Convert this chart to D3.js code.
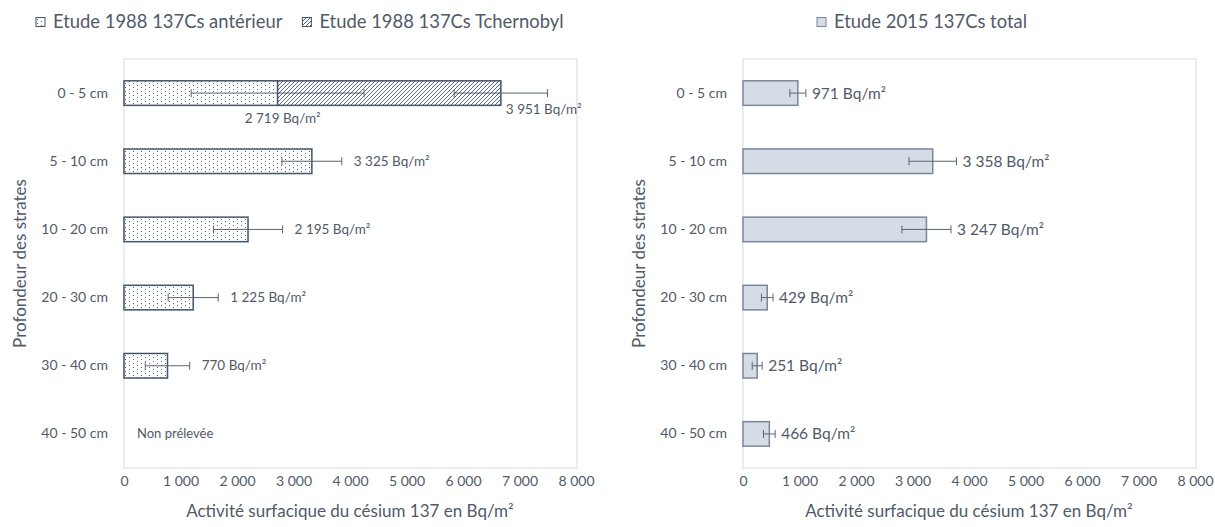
<!DOCTYPE html>
<html>
<head>
<meta charset="utf-8">
<script src="https://cdn.jsdelivr.net/npm/d3@7"></script>
<style>
  html, body { margin: 0; padding: 0; background: #fff; }
  svg { display: block; }
  text { font-family: Lato, "Open Sans", sans-serif; }
</style>
</head>
<body>
<svg id="chart" width="1215" height="527"></svg>
<script>
// ---------- DATA ----------
const categories = ["0 - 5 cm", "5 - 10 cm", "10 - 20 cm", "20 - 30 cm", "30 - 40 cm", "40 - 50 cm"];
const xTicks = [0, 1000, 2000, 3000, 4000, 5000, 6000, 7000, 8000];

// 1988 study (stacked): anterior + Chernobyl contributions
const ant1988 = [2719, 3325, 2195, 1225, 770, null];
const ant1988Err = [1530, 530, 612, 443, 393, null];
const tch1988 = [3951, null, null, null, null, null];
const tch1988Err = [825, null, null, null, null, null]; // error on stacked total

// 2015 study
const tot2015 = [971, 3358, 3247, 429, 251, 466];
const tot2015Err = [142, 420, 434, 103, 88, 103];

const legendLeft = ["Etude 1988 137Cs antérieur", "Etude 1988 137Cs Tchernobyl"];
const legendRight = ["Etude 2015 137Cs total"];
const xTitle = "Activité surfacique du césium 137 en Bq/m²";
const yTitle = "Profondeur des strates";
const notSampled = "Non prélevée";
const unit = " Bq/m²";

// ---------- SETUP ----------
const svg = d3.select("#chart");
const textColor = "#505a68";
const barStroke = "#44546A";
const errColor = "#5b6473";

const locale = d3.formatLocale({decimal: ",", thousands: "\u00a0", grouping: [3], currency: ["", "€"]});
const fmt = locale.format(",d");

const defs = svg.append("defs");
const dots = defs.append("pattern").attr("id", "dots")
  .attr("patternUnits", "userSpaceOnUse").attr("width", 8).attr("height", 4);
dots.append("rect").attr("width", 8).attr("height", 4).attr("fill", "#fff");
dots.append("rect").attr("x", 1).attr("y", 1).attr("width", 1).attr("height", 1).attr("fill", "#5a6475");
dots.append("rect").attr("x", 5).attr("y", 3).attr("width", 1).attr("height", 1).attr("fill", "#5a6475");

const hatch = defs.append("pattern").attr("id", "hatch")
  .attr("patternUnits", "userSpaceOnUse").attr("width", 4).attr("height", 4);
hatch.append("rect").attr("width", 4).attr("height", 4).attr("fill", "#fff");
hatch.append("path").attr("d", "M-1,1 l2,-2 M0,4 l4,-4 M3,5 l2,-2")
  .attr("stroke", "#44546A").attr("stroke-width", 0.9);

const plotTop = 59, plotBottom = 468;

function makePanel(x0, x1, titleX) {
  const x = d3.scaleLinear().domain([0, 8000]).range([x0, x1]);
  const y = d3.scaleBand().domain(categories).range([plotTop, plotBottom])
    .paddingInner(0.64).paddingOuter(0.32);
  const g = svg.append("g");
  g.append("rect").attr("x", x0).attr("y", plotTop)
    .attr("width", x1 - x0 + 1).attr("height", plotBottom - plotTop)
    .attr("fill", "none").attr("stroke", "#D9D9D9").attr("stroke-width", 1);
  const ax = g.append("g").attr("transform", `translate(0,${plotBottom})`)
    .call(d3.axisBottom(x).tickValues(xTicks).tickSize(0).tickPadding(8).tickFormat(fmt));
  ax.select(".domain").remove();
  ax.selectAll("text").attr("fill", textColor).style("font-size", "14px").style("font-family", "Lato");
  const ay = g.append("g").attr("transform", `translate(${x0},0)`)
    .call(d3.axisLeft(y).tickSize(0).tickPadding(16));
  ay.select(".domain").remove();
  ay.selectAll("text").attr("fill", textColor).style("font-size", "14px").style("font-family", "Lato");
  g.append("text").attr("x", (x0 + x1) / 2).attr("y", 517).attr("text-anchor", "middle")
    .attr("fill", textColor).style("font-size", "17px").text(xTitle);
  g.append("text").attr("transform", `translate(${titleX},${(plotTop + plotBottom) / 2}) rotate(-90)`)
    .attr("text-anchor", "middle").attr("dy", "0.35em")
    .attr("fill", textColor).style("font-size", "17px").text(yTitle);
  return {x, y, g};
}

function errorBar(g, x, yc, lo, hi) {
  g.append("line").attr("x1", x(lo)).attr("x2", x(hi)).attr("y1", yc).attr("y2", yc)
    .attr("stroke", errColor).attr("stroke-width", 1);
  [lo, hi].forEach(v => g.append("line").attr("x1", x(v)).attr("x2", x(v))
    .attr("y1", yc - 4).attr("y2", yc + 4).attr("stroke", errColor).attr("stroke-width", 1));
}

// ---------- LEFT PANEL ----------
{
  const {x, y, g} = makePanel(124, 576, 20);
  const bw = y.bandwidth();
  categories.forEach((c, i) => {
    const a = ant1988[i];
    if (a == null) return;
    g.append("rect").attr("x", x(0)).attr("y", y(c)).attr("width", x(a) - x(0)).attr("height", bw)
      .attr("fill", "url(#dots)").attr("stroke", barStroke).attr("stroke-width", 1.5);
    const t = tch1988[i];
    if (t != null) {
      g.append("rect").attr("x", x(a)).attr("y", y(c)).attr("width", x(a + t) - x(a)).attr("height", bw)
        .attr("fill", "url(#hatch)").attr("stroke", barStroke).attr("stroke-width", 1.5);
    }
  });
  categories.forEach((c, i) => {
    const a = ant1988[i];
    const yc = y(c) + bw / 2;
    if (a == null) {
      g.append("text").attr("x", x(0) + 13).attr("y", yc).attr("dy", "0.35em")
        .attr("fill", textColor).style("font-size", "13px").text(notSampled);
      return;
    }
    const t = tch1988[i];
    if (t != null) {
      errorBar(g, x, yc, a + t - tch1988Err[i], a + t + tch1988Err[i]);
    }
    errorBar(g, x, yc, a - ant1988Err[i], a + ant1988Err[i]);
    if (t != null) {
      g.append("text").attr("x", x(a) + 5).attr("y", y(c) + bw + 13).attr("dy", "0.35em")
        .attr("text-anchor", "middle").attr("fill", textColor).style("font-size", "13.5px")
        .text(fmt(a) + unit);
      g.append("text").attr("x", x(a + t) + 5).attr("y", yc + 16).attr("dy", "0.35em")
        .attr("fill", textColor).style("font-size", "13.5px").text(fmt(t) + unit);
    } else {
      g.append("text").attr("x", x(a + ant1988Err[i]) + 12).attr("y", yc).attr("dy", "0.35em")
        .attr("fill", textColor).style("font-size", "13.5px").text(fmt(a) + unit);
    }
  });
}

// ---------- RIGHT PANEL ----------
{
  const {x, y, g} = makePanel(743, 1195, 639);
  const bw = y.bandwidth();
  categories.forEach((c, i) => {
    const v = tot2015[i];
    g.append("rect").attr("x", x(0)).attr("y", y(c)).attr("width", x(v) - x(0)).attr("height", bw)
      .attr("fill", "#D6DCE5").attr("stroke", "#7b879a").attr("stroke-width", 1.5);
  });
  categories.forEach((c, i) => {
    const v = tot2015[i], e = tot2015Err[i];
    const yc = y(c) + bw / 2;
    errorBar(g, x, yc, v - e, v + e);
    g.append("text").attr("x", x(v + e) + 6).attr("y", yc).attr("dy", "0.35em")
      .attr("fill", textColor).style("font-size", "15.5px").text(fmt(v) + unit);
  });
}

// ---------- LEGENDS ----------
function legendItem(bx, cy, fill, stroke, label) {
  svg.append("rect").attr("x", bx).attr("y", cy - 4.5).attr("width", 9).attr("height", 9)
    .attr("fill", fill).attr("stroke", stroke).attr("stroke-width", 1);
  const t = svg.append("text").attr("x", bx + 17).attr("y", cy).attr("dy", "0.35em")
    .attr("fill", textColor).style("font-size", "18.4px").text(label);
  return bx + 17 + t.node().getComputedTextLength();
}
const legY = 22;
const end1 = legendItem(36, legY, "url(#dots)", barStroke, legendLeft[0]);
legendItem(end1 + 20, legY, "url(#hatch)", barStroke, legendLeft[1]);
legendItem(817, legY, "#D6DCE5", "#7b879a", legendRight[0]);
</script>
</body>
</html>
